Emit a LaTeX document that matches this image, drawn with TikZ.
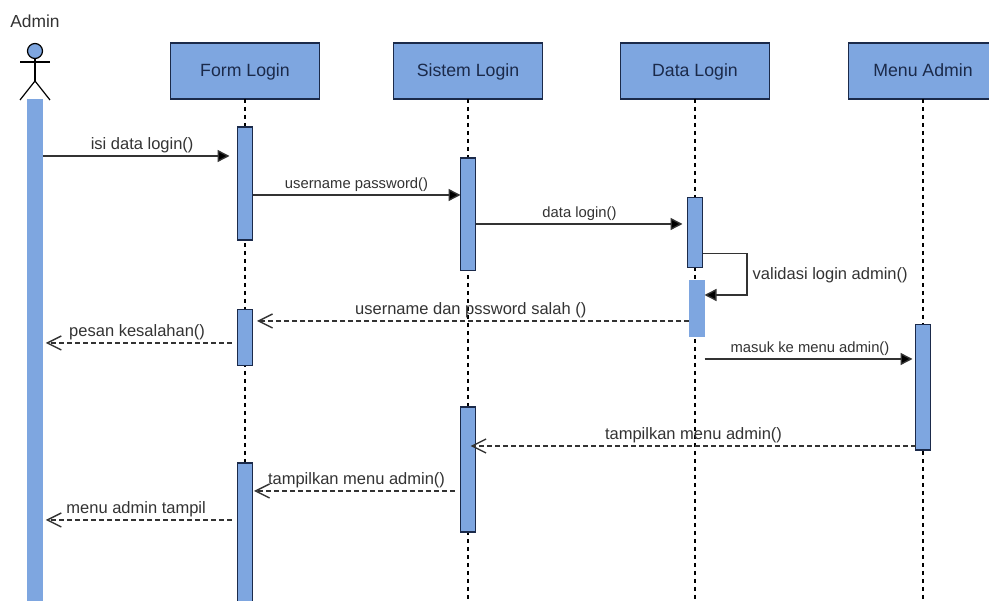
\documentclass[tikz,border=0pt]{standalone}
\usepackage{fontspec}
\setmainfont{Liberation Sans}
\usepackage{tikz}
\usetikzlibrary{arrows.meta}
\definecolor{barblue}{HTML}{7EA6E0}
\definecolor{inkblue}{HTML}{1B2A4A}
\definecolor{labelgrey}{HTML}{333333}

\begin{document}
\begin{tikzpicture}[auto,x=1pt,y=-1pt,
    lifebox/.style={draw=inkblue,fill=barblue,line width=1.2pt,minimum width=149pt,minimum height=56pt,inner sep=0pt,outer sep=0pt,text=inkblue,text height=14pt,text depth=3pt,font=\fontsize{17.7}{20}\selectfont},
    activebar/.style={draw=inkblue,fill=barblue,line width=1.2pt,minimum width=15pt,inner sep=0pt,outer sep=0pt},
    plainbar/.style={fill=barblue,minimum width=15.5pt,inner sep=0pt,outer sep=0pt},
    lifeline/.style={black,line width=1.2pt,dash pattern=on 4pt off 4pt},
    callmsg/.style={labelgrey,line width=1.4pt,-{Triangle[length=12pt,width=12pt,fill=black]}},
    backmsg/.style={labelgrey,line width=1.2pt,dash pattern=on 5pt off 3pt,-{Straight Barb[length=14pt,width=14pt,line width=1.4pt]}},
    biglabel/.style={text=labelgrey,inner sep=3pt,font=\fontsize{16.5}{19}\selectfont},
    smalllabel/.style={text=labelgrey,inner sep=3pt,font=\fontsize{14.8}{17}\selectfont}]
    \path[use as bounding box,fill=white] (0,0) rectangle (989,601);
    \clip (0,0) rectangle (989,601);
    \node (admin) at (35,21) [text=labelgrey,inner sep=0pt,font=\fontsize{17.4}{20}\selectfont] {Admin};
    \node (head) at (35,51) [circle,draw=black,fill=barblue,line width=1.2pt,minimum size=15pt,inner sep=0pt,outer sep=0pt] {};
    \coordinate (armL) at (20,62);
    \coordinate (armR) at (50,62);
    \coordinate (hip) at (35,81);
    \coordinate (legL) at (20,100);
    \coordinate (legR) at (50,100);
    \draw[line width=1.2pt] (head) -- (hip);
    \draw[line width=1.2pt] (armL) -- (armR);
    \draw[line width=1.2pt] (legL) -- (hip) -- (legR);
    \node (A0) at (35,360) [plainbar,minimum height=522pt] {};

    \node (form) at (245,71) [lifebox] {Form Login};
    \node (sistem) at (468,71) [lifebox] {Sistem Login};
    \node (data) at (695,71) [lifebox] {Data Login};
    \node (menu) at (923,71) [lifebox] {Menu Admin};
    \coordinate (formEnd) at (245,601);
    \coordinate (sistemEnd) at (468,601);
    \coordinate (dataEnd) at (695,601);
    \coordinate (menuEnd) at (923,601);
    \draw[lifeline] (form) -- (formEnd);
    \draw[lifeline] (sistem) -- (sistemEnd);
    \draw[lifeline] (data) -- (dataEnd);
    \draw[lifeline] (menu) -- (menuEnd);

    \node (F1) at (245,183.5) [activebar,minimum height=113pt] {};
    \node (F2) at (245,337.5) [activebar,minimum height=56.5pt] {};
    \node (F3) at (245,540) [activebar,minimum height=154pt] {};
    \node (S1) at (468,214.25) [activebar,minimum height=112.5pt] {};
    \node (S2) at (468,469.5) [activebar,minimum height=125pt] {};
    \node (D1) at (695,232.5) [activebar,minimum height=70pt] {};
    \node (D2) at (696.75,308.5) [plainbar,minimum height=57pt] {};
    \node (M1) at (923,387.25) [activebar,minimum height=125.5pt] {};

    \coordinate (y1) at (0,156);
    \coordinate (y2) at (0,195);
    \coordinate (y3) at (0,224);
    \coordinate (y4) at (0,253.5);
    \coordinate (y5) at (0,295);
    \coordinate (y6) at (0,321);
    \coordinate (y7) at (0,343);
    \coordinate (y8) at (0,359);
    \coordinate (y9) at (0,446);
    \coordinate (y10) at (0,491);
    \coordinate (y11) at (0,520);
    \coordinate (loopR) at (747,0);

    \draw[callmsg,shorten >=8pt] (A0.east |- y1) to node [biglabel,xshift=2pt,yshift=-1pt] {isi data login()} (F1.west |- y1);
    \draw[callmsg] (F1.east |- y2) to node [smalllabel] {username password()} (S1.west |- y2);
    \draw[callmsg,shorten >=5pt] (S1.east |- y3) to node [smalllabel,xshift=-2pt] {data login()} (D1.west |- y3);
    \draw[callmsg] (D1.east |- y4) -- (loopR |- y4) -- node [biglabel,pos=0.5,anchor=west,xshift=2pt,yshift=-1pt] {validasi login admin()} (loopR |- y5) -- (D2.east |- y5);
    \draw[backmsg,shorten >=4.5pt] (D2.west |- y6) to node [swap,biglabel,yshift=-1pt] {username dan pssword salah ()} (F2.east |- y6);
    \draw[backmsg,shorten <=6pt,shorten >=3pt] (F2.west |- y7) to node [swap,biglabel,xshift=-3pt,yshift=-1pt] {pesan kesalahan()} (A0.east |- y7);
    \draw[callmsg,shorten >=3pt] (D2.east |- y8) to node [smalllabel] {masuk ke menu admin()} (M1.west |- y8);
    \draw[backmsg,shorten >=-5pt] (M1.west |- y9) to node [swap,biglabel,xshift=-2pt,yshift=-1pt] {tampilkan menu admin()} (S2.east |- y9);
    \draw[backmsg,shorten <=6pt,shorten >=1.5pt] (S2.west |- y10) to node [swap,biglabel,yshift=-1pt] {tampilkan menu admin()} (F3.east |- y10);
    \draw[backmsg,shorten <=6pt,shorten >=3pt] (F3.west |- y11) to node [swap,biglabel,xshift=-4pt,yshift=-1pt] {menu admin tampil} (A0.east |- y11);
  \end{tikzpicture}
\end{document}
